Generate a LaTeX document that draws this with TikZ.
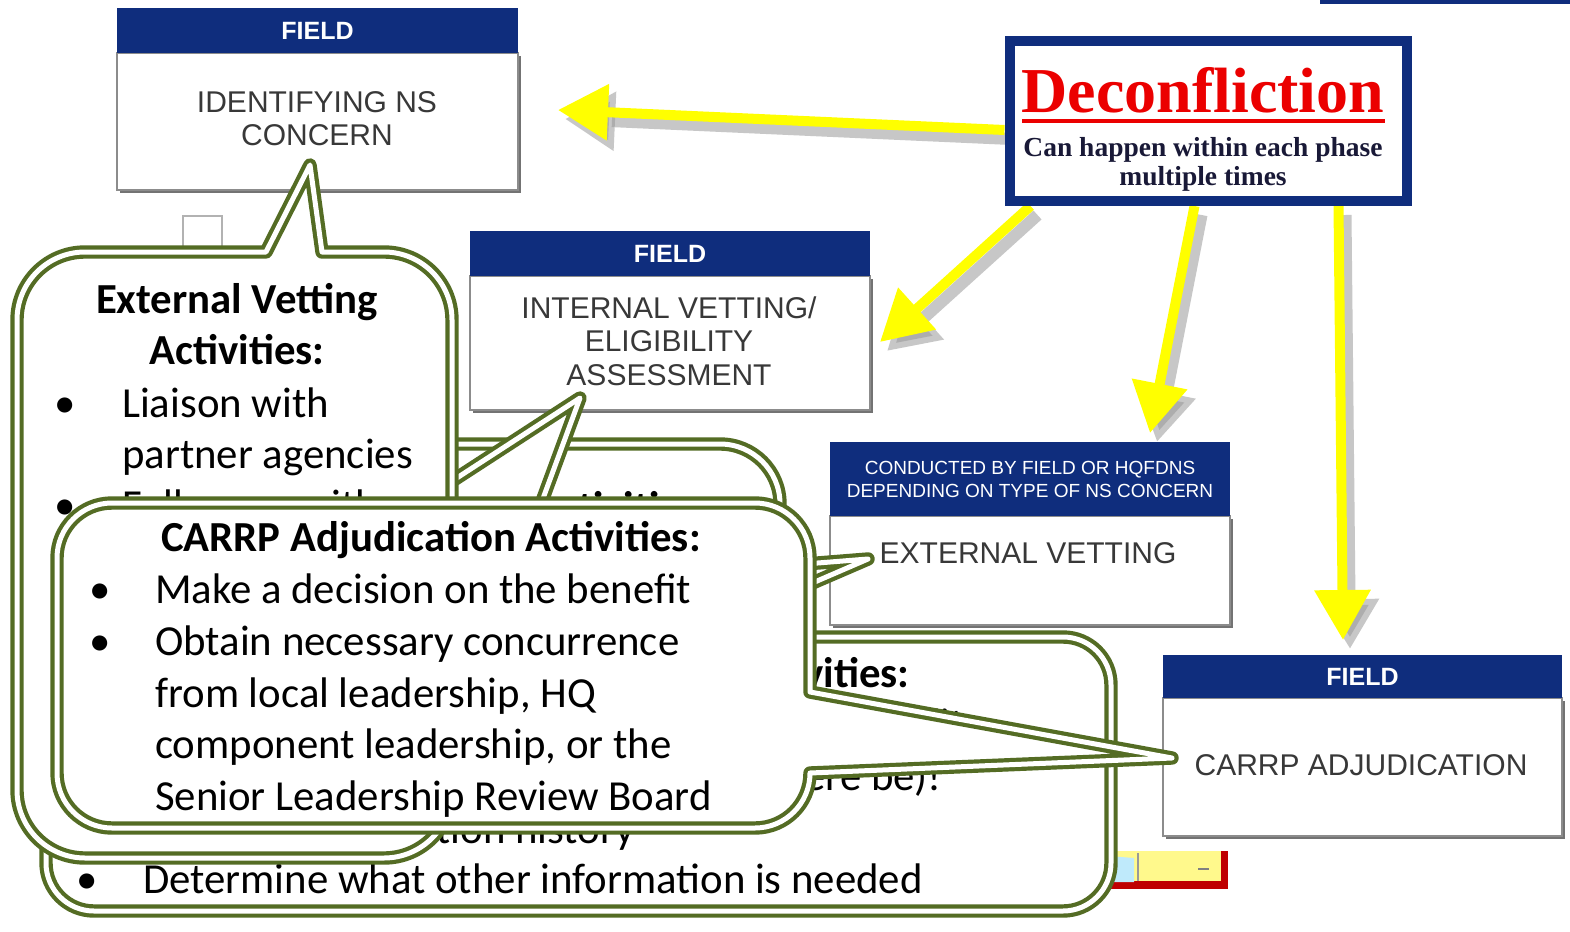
\documentclass[tikz,border=0pt]{standalone}
\usepackage{fontspec}
\setmainfont{Carlito}
\newfontfamily\arfont{Liberation Sans}
\newfontfamily\tmfont{Liberation Serif}
\usetikzlibrary{arrows.meta}
\definecolor{navy}{RGB}{15,45,125}
\definecolor{olv}{RGB}{84,108,36}
\definecolor{yel}{RGB}{255,255,0}
\definecolor{dred}{RGB}{235,0,0}
\definecolor{subc}{RGB}{25,25,55}
\begin{document}
\begin{tikzpicture}[x=1pt,y=-1pt,
 hdr/.style={fill=navy, draw=none, inner sep=0pt, text=white, font=\arfont\bfseries\fontsize{25}{28}\selectfont},
 body/.style={fill=white, draw=black!45, line width=1.5pt, inner sep=0pt},
 bshadow/.style={fill=black!55, draw=none, inner sep=0pt},
 boxtext/.style={font=\arfont\fontsize{30}{33.5}\selectfont, text=black!78, align=center, inner sep=0pt},
 yarrow/.style={draw=yel, line width=10pt, -{Triangle[length=50pt,width=54pt]}},
 yshadow/.style={draw=black!40, opacity=0.55, line width=12pt, -{Triangle[length=50pt,width=56pt]}},
 callout/.style={draw=olv, line width=4.2pt, double=white, double distance=5pt, fill=white, line join=round},
 ctext/.style={font=\fontsize{42.8}{51}\selectfont, inner sep=0pt, anchor=base west},
 chead/.style={font=\bfseries\fontsize{42.8}{51}\selectfont, inner sep=0pt, anchor=base},
]
\useasboundingbox (0,0) rectangle (1570,931);
\fill[white] (0,0) rectangle (1570,931);

% small background bits
\fill[navy] (1320,0) rectangle (1570,4);
\draw[black!30, line width=1.5pt, fill=white] (183,216) rectangle (222,262);
\fill[red!75!black] (1106,851) rectangle (1228,889);
\fill[yellow!45] (1106,851) rectangle (1221,881);
\fill[cyan!25] (1108,856) -- (1134,858) -- (1134,882) -- (1110,882) -- cycle;
\draw[black!40, line width=1.5pt] (1138,853) -- (1138,881);
\draw[black!50, line width=1.2pt] (1198,869) -- (1209,869);

% FIELD boxes
\node[bshadow, minimum width=401pt, minimum height=137pt] at (320,124.5) {};
\node[body, minimum width=401pt, minimum height=137pt] (b1) at (317.5,121.5) {};
\node[hdr, minimum width=401pt, minimum height=45pt] (b1h) at (317.5,30.5) {FIELD};
\node[boxtext] (b1t) at (317,118.5) {IDENTIFYING NS\\CONCERN};

\node[bshadow, minimum width=400pt, minimum height=134pt] at (673,346) {};
\node[body, minimum width=400pt, minimum height=134pt] (b2) at (670,343) {};
\node[hdr, minimum width=400pt, minimum height=45pt] (b2h) at (670,253.5) {FIELD};
\node[boxtext] (b2t) at (669,341) {INTERNAL VETTING/\\ELIGIBILITY\\ASSESSMENT};

\node[bshadow, minimum width=400pt, minimum height=109pt] at (1033,573.5) {};
\node[body, minimum width=400pt, minimum height=109pt] (b3) at (1030,570.5) {};
\node[hdr, minimum width=400pt, minimum height=74pt, font=\arfont\fontsize{19}{23}\selectfont, align=center] (b3h) at (1030,479) {CONDUCTED BY FIELD OR HQFDNS\\DEPENDING ON TYPE OF NS CONCERN};
\node[boxtext] (b3t) at (1028,553) {EXTERNAL VETTING};

\node[bshadow, minimum width=399pt, minimum height=138pt] at (1365.5,770) {};
\node[body, minimum width=399pt, minimum height=138pt] (b4) at (1362.5,767) {};
\node[hdr, minimum width=399pt, minimum height=43pt] (b4h) at (1362.5,676.5) {FIELD};
\node[boxtext] (b4t) at (1361,765) {CARRP ADJUDICATION};

% Deconfliction node (frame) and arrow tips
\node[draw=navy, line width=10pt, fill=white, minimum width=397pt, minimum height=160pt, inner sep=0pt] (decon) at (1208,121) {};
\coordinate (tip1) at (558,110);
\coordinate (tip2) at (880,342);
\coordinate (tip3) at (1150,433);
\coordinate (tip4) at (1343,640);

% arrow shadows
\begin{scope}[transform canvas={xshift=7pt,yshift=-9pt}]
\draw[yshadow] ([yshift=-9pt]decon.west) -- (tip1);
\draw[yshadow] ([xshift=26pt]decon.south west) -- (tip2);
\draw[yshadow] ([xshift=190pt]decon.south west) -- (tip3);
\draw[yshadow] ([xshift=334pt]decon.south west) -- (tip4);
\end{scope}
% yellow arrows
\draw[yarrow] ([yshift=-9pt]decon.west) -- (tip1);
\draw[yarrow] ([xshift=26pt]decon.south west) -- (tip2);
\draw[yarrow] ([xshift=190pt]decon.south west) -- (tip3);
\draw[yarrow] ([xshift=334pt]decon.south west) -- (tip4);

% frame redrawn over arrow starts
\node[draw=navy, line width=10pt, fill=white, minimum width=397pt, minimum height=160pt, inner sep=0pt] (deconf) at (1208,121) {};
\node[font=\tmfont\bfseries\fontsize{64}{70}\selectfont, text=dred, inner sep=0pt, anchor=base] (dtitle) at (1203,113) {Deconfliction};
\draw[dred, line width=4pt] (1022,121) -- (1385,121);
\node[font=\tmfont\bfseries\fontsize{27.5}{30}\selectfont, text=subc, inner sep=0pt, anchor=base] (dsub1) at (1203,156) {Can happen within each phase};
\node[font=\tmfont\bfseries\fontsize{27.5}{30}\selectfont, text=subc, inner sep=0pt, anchor=base] (dsub2) at (1203,185) {multiple times};

% Callout D (under everything)
\draw[callout] (360,444) -- (720,444) arc[start angle=90,end angle=0,radius=60pt]
  -- (780,566) -- (868,559) -- (780,597) -- (780,740)
  arc[start angle=0,end angle=-90,radius=60pt] -- (360,800)
  arc[start angle=270,end angle=180,radius=60pt] -- (300,504)
  arc[start angle=180,end angle=90,radius=60pt] -- cycle;
\node[chead, anchor=base east] (dH) at (710,521) {Activities:};

% Callout E
\draw[callout] (94,637) -- (212,637) -- (580,398) -- (492,637) -- (1063,637)
  arc[start angle=90,end angle=0,radius=48pt] -- (1111,863)
  arc[start angle=0,end angle=-90,radius=48pt] -- (94,911)
  arc[start angle=270,end angle=180,radius=48pt] -- (46,685)
  arc[start angle=180,end angle=90,radius=48pt] -- cycle;
\node[chead, anchor=base east] (eH) at (910,687) {Activities:};
\node[ctext, anchor=base east] (eF) at (965,738) {fit};
\node[ctext, anchor=base east] (eT2) at (942,790) {ere be)!};
\node[ctext, anchor=base east] (eT3) at (635,843) {tion history};
\node[ctext] (eB) at (76,893) {\textbullet};
\node[ctext] (eT4) at (143,893) {Determine what other information is needed};

% Callout A
\draw[callout] (85,252) -- (266,252) -- (310,165) -- (322,252) -- (384,252)
  arc[start angle=90,end angle=0,radius=68pt] -- (452,790)
  arc[start angle=0,end angle=-90,radius=68pt] -- (85,858)
  arc[start angle=270,end angle=180,radius=68pt] -- (17,320)
  arc[start angle=180,end angle=90,radius=68pt] -- cycle;
\node[chead] (aH1) at (237,313) {External Vetting};
\node[chead] (aH2) at (237,364) {Activities:};
\node[ctext] (aB1) at (54,417) {\textbullet};
\node[ctext] (aT1) at (122,417) {Liaison with};
\node[ctext] (aT2) at (122,468) {partner agencies};
\node[ctext] (aB2) at (54,519) {\textbullet};
\node[ctext] (aT3) at (122,519) {Follow up with};

% Callout B (CARRP, on top)
\draw[callout] (112,503) -- (755,503) arc[start angle=90,end angle=0,radius=55pt]
  -- (810,692) -- (1172,758) -- (810,773)
  arc[start angle=0,end angle=-90,radius=55pt] -- (112,828)
  arc[start angle=270,end angle=180,radius=55pt] -- (57,558)
  arc[start angle=180,end angle=90,radius=55pt] -- cycle;
\node[chead] (bH) at (431,551) {CARRP Adjudication Activities:};
\node[ctext] (bB1) at (89,603) {\textbullet};
\node[ctext] (bT1) at (155,603) {Make a decision on the benefit};
\node[ctext] (bB2) at (89,655) {\textbullet};
\node[ctext] (bT2) at (155,655) {Obtain necessary concurrence};
\node[ctext] (bT3) at (155,707) {from local leadership, HQ};
\node[ctext] (bT4) at (155,758) {component leadership, or the};
\node[ctext] (bT5) at (155,810) {Senior Leadership Review Board};
\end{tikzpicture}
\end{document}
